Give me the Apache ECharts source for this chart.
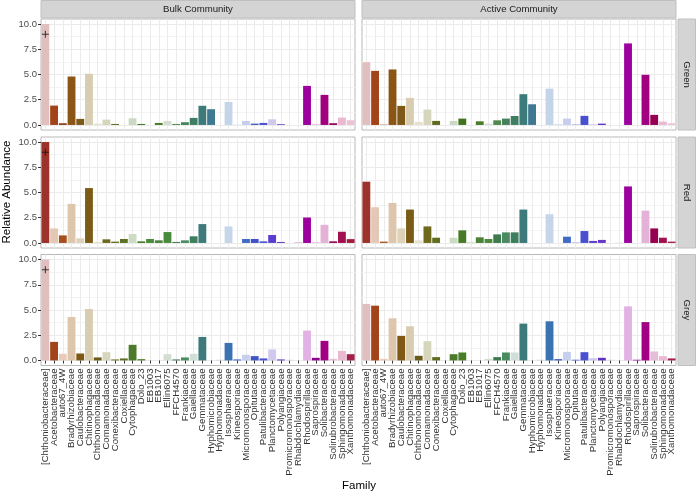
<!DOCTYPE html>
<html><head><meta charset="utf-8">
<script src="https://cdn.jsdelivr.net/npm/echarts@6/dist/echarts.min.js"></script>
<style>html,body{margin:0;padding:0;background:#fff}#c{width:696px;height:495px}</style>
</head><body><div id="c"></div>
<script>
const categories = ['[Chthoniobacteraceae]','Acetobacteraceae','auto67_4W','Bradyrhizobiaceae','Caulobacteraceae','Chitinophagaceae','Chthonomonadaceae','Comamonadaceae','Conexibacteraceae','Coxiellaceae','Cytophagaceae','Dolo_23','EB1003','EB1017','Ellin6075','FFCH4570','Frankiaceae','Gaiellaceae','Gemmataceae','Hyphomicrobiaceae','Hyphomonadaceae','Isosphaeraceae','Kineosporiaceae','Micromonosporaceae','Opitutaceae','Patulibacteraceae','Planctomycetaceae','Polyangiaceae','Promicromonosporaceae','Rhabdochlamydiaceae','Rhodospirillaceae','Saprospiraceae','Solibacteraceae','Solirubrobacteraceae','Sphingomonadaceae','Xanthomonadaceae'];
const columnTitles = ['Bulk Community','Active Community'];
const rowTitles = ['Green','Red','Grey'];
const yTicks = [0, 2.5, 5, 7.5, 10];

const bulkGreen   = [10, 1.92, 0.17, 4.8, 0.6, 5.07, 0.13, 0.53, 0.1, 0, 0.66, 0.1, 0, 0.2, 0.4, 0.1, 0.27, 0.7, 1.9, 1.56, 0, 2.28, 0.03, 0.4, 0.13, 0.2, 0.56, 0.07, 0, 0, 3.87, 0.1, 2.98, 0.17, 0.73, 0.47];
const activeGreen = [6.22, 5.36, 0.03, 5.5, 1.89, 2.68, 0.3, 1.52, 0.4, 0, 0.4, 0.63, 0, 0.36, 0.13, 0.46, 0.63, 0.89, 3.05, 2.05, 0, 3.6, 0.07, 0.63, 0.03, 0.9, 0.07, 0.13, 0, 0, 8.08, 0, 4.97, 1.0, 0.33, 0.17];
const bulkRed     = [10, 1.44, 0.75, 3.87, 0.46, 5.44, 0.1, 0.36, 0.13, 0.39, 0.89, 0.16, 0.39, 0.26, 1.08, 0.1, 0.26, 0.66, 1.87, 0, 0, 1.64, 0, 0.39, 0.39, 0.16, 0.79, 0.1, 0, 0.1, 2.52, 0.1, 1.8, 0.16, 1.11, 0.38];
const activeRed   = [6.07, 3.54, 0.13, 3.97, 1.44, 3.31, 0.26, 1.64, 0.52, 0, 0.52, 1.25, 0.1, 0.56, 0.39, 0.85, 1.05, 1.05, 3.31, 0, 0, 2.85, 0, 0.62, 0.1, 1.18, 0.2, 0.3, 0, 0.03, 5.6, 0, 3.2, 1.44, 0.52, 0.13];
const bulkGrey    = [10, 1.84, 0.66, 4.31, 0.69, 5.1, 0.3, 0.82, 0.1, 0.2, 1.55, 0.13, 0, 0, 0.62, 0.1, 0.3, 0.66, 2.33, 0, 0.07, 1.74, 0.1, 0.56, 0.43, 0.2, 1.09, 0.1, 0.07, 0, 2.96, 0.26, 1.94, 0.16, 0.95, 0.62];
const activeGrey  = [5.6, 5.43, 0.16, 4.18, 2.43, 3.39, 0.46, 1.91, 0.33, 0, 0.62, 0.79, 0, 0, 0.16, 0.33, 0.79, 0.79, 3.65, 0, 0.07, 3.88, 0.13, 0.85, 0.07, 0.82, 0.23, 0.26, 0.07, 0, 5.36, 0.07, 3.8, 0.89, 0.43, 0.2];

const plusCategory = '[Chthoniobacteraceae]';
const plusValue = 9;

// styles (fill colours per family, per row)
const colorsGreen = ['#e2bfbf','#a3431a','#8e3c12','#8b5515','#7e5817','#d8cdb0','#e6e1cc','#d6d6bc','#616a1d','#5f6d20','#cad9c2','#41731f','#4a7c2b','#4a7a28','#d3ddd0','#4f8a4c','#45825c','#3f7e62','#3d7a7a','#3f7891','#c7d5e8','#c5d5e9','#c9d4ee','#c6cdee','#3f55c4','#4a4fd0','#d0c8ee','#5b2fc0','#dccdee','#e8c2e4','#9c009e','#ecc4e0','#a1007e','#960052','#e9b9d2','#ebc3d3'];
const colorsRed   = ['#9c3229','#e5c7b6','#a5501c','#ddc6ac','#ded2b8','#7a5c17','#e8e2cc','#6e6a1d','#646c1f','#5c7222','#cbdcc3','#467a24','#4b8a3a','#4a8038','#4a8a3c','#3f7a4e','#4a8a60','#3e7e5e','#3e7a7c','#3f7891','#c7d5e8','#c6d6e8','#c9d4ee','#3f6ac6','#4050c8','#4a4fd0','#5a3dd0','#6a35c8','#dccdee','#e8c2e4','#9c009e','#ecc4e0','#e3b2d6','#960052','#a1104f','#a3183e'];
const colorsGrey  = ['#e2bfbf','#a3431a','#e8cbb9','#ddc6ac','#805816','#d8cdb0','#6b5a19','#d6d6bc','#616a1d','#5c7222','#4a7a2a','#4a7d28','#4a7c2b','#4a7a28','#d3ddd0','#3f7a4e','#4a8a60','#d0e0d8','#3e7a7c','#3f7891','#c7d5e8','#3a72b2','#3f55c4','#c6d0ee','#3f55c4','#4a4fd0','#d0c8ee','#5b2fc0','#dccdee','#e8c2e4','#e2b2e4','#8f008a','#a10084','#e6bdd6','#e9b9d2','#a3204a'];
const colorsActiveRed = colorsRed.map((c,i)=> i===12 ? '#d5e2cf' : (i===24 ? '#c6cdee' : c));

const FONT = '"Liberation Sans", Arial, Helvetica, sans-serif';
const colLeft = [41, 362], colW = [314, 314];
const rowTop = [19, 137, 254.5], rowH = 111, exp = rowH * 0.5 / 11;

const panels = [
  {r:0, c:0, vals:bulkGreen,   colors:colorsGreen, plus:true},
  {r:0, c:1, vals:activeGreen, colors:colorsGreen, plus:false},
  {r:1, c:0, vals:bulkRed,     colors:colorsRed,   plus:true},
  {r:1, c:1, vals:activeRed,   colors:colorsActiveRed, plus:false},
  {r:2, c:0, vals:bulkGrey,    colors:colorsGrey,  plus:true},
  {r:2, c:1, vals:activeGrey,  colors:colorsGrey,  plus:false}
];

const grids = [], xAxes = [], yAxes = [], series = [];
panels.forEach(p => {
  const L = colLeft[p.c], T = rowTop[p.r], Wd = colW[p.c];
  const bottom = p.r === 2, leftCol = p.c === 0;
  const gBg = grids.length;
  grids.push({left:L, top:T, width:Wd, height:rowH, show:true, backgroundColor:'#ffffff', borderColor:'#b8b8b8', borderWidth:1, z:0});
  xAxes.push({type:'value', gridIndex:gBg, min:0, max:categories.length, interval:1,
    axisLine:{show:false}, axisTick:{show:false}, axisLabel:{show:false}, splitLine:{show:false},
    minorTick:{show:false, splitNumber:2}, minorSplitLine:{show:true, lineStyle:{color:'#ebebeb', width:1}}});
  yAxes.push({type:'value', gridIndex:gBg, min:0, max:1, axisLine:{show:false}, axisTick:{show:false}, axisLabel:{show:false}, splitLine:{show:false}});
  const gM = grids.length;
  grids.push({left:L, top:T + exp, width:Wd, height:rowH - 2*exp});
  xAxes.push({type:'category', gridIndex:gM, data:categories, offset:exp,
    axisLine:{show:false},
    axisTick:{show:bottom, alignWithLabel:true, length:3, lineStyle:{color:'#333'}},
    axisLabel:{show:bottom, rotate:90, interval:0, fontSize:9.6, color:'#333', margin:3, fontFamily:FONT},
    splitLine:{show:false}});
  yAxes.push({type:'value', gridIndex:gM, min:yTicks[0], max:yTicks[yTicks.length-1], interval:2.5,
    axisLine:{show:false},
    axisTick:{show:leftCol, length:3, lineStyle:{color:'#333'}},
    axisLabel:{show:leftCol, formatter:v => v.toFixed(1), fontSize:9.5, color:'#4d4d4d', margin:4, fontFamily:FONT},
    splitLine:{show:true, lineStyle:{color:'#ebebeb', width:1}},
    minorTick:{show:false, splitNumber:2},
    minorSplitLine:{show:true, lineStyle:{color:'#f3f3f3', width:1}}});
  const xi = xAxes.length - 1, yi = yAxes.length - 1;
  series.push({type:'bar', xAxisIndex:xi, yAxisIndex:yi, barWidth:'90%', silent:true,
    data:p.vals.map((v,i) => ({value:v, itemStyle:{color:p.colors[i]}}))});
  if (p.plus) {
    series.push({type:'scatter', xAxisIndex:xi, yAxisIndex:yi, silent:true, z:5,
      symbol:'path://M3,0H4V3H7V4H4V7H3V4H0V3H3Z', symbolSize:7, itemStyle:{color:'#111'},
      data:[[plusCategory, plusValue]]});
  }
});

const graphics = [];
columnTitles.forEach((t, c) => {
  graphics.push({type:'rect', shape:{x:colLeft[c], y:0.5, width:colW[c], height:17.5}, style:{fill:'#d4d4d4', stroke:'#c0c0c0', lineWidth:1}, silent:true});
  graphics.push({type:'text', x:colLeft[c] + colW[c]/2, y:9.5, style:{text:t, fill:'#1a1a1a', font:'9.6px ' + FONT, textAlign:'center', textVerticalAlign:'middle'}, silent:true});
});
rowTitles.forEach((t, r) => {
  graphics.push({type:'rect', shape:{x:678, y:rowTop[r], width:17.5, height:rowH}, style:{fill:'#d4d4d4', stroke:'#c0c0c0', lineWidth:1}, silent:true});
  graphics.push({type:'text', x:687, y:rowTop[r] + rowH/2, rotation:-Math.PI/2, style:{text:t, fill:'#1a1a1a', font:'9.6px ' + FONT, textAlign:'center', textVerticalAlign:'middle'}, silent:true});
});
graphics.push({type:'text', x:7, y:192, rotation:Math.PI/2, style:{text:'Relative Abundance', fill:'#000', font:'11.5px ' + FONT, textAlign:'center', textVerticalAlign:'middle'}, silent:true});
graphics.push({type:'text', x:359, y:486, style:{text:'Family', fill:'#000', font:'11.5px ' + FONT, textAlign:'center', textVerticalAlign:'middle'}, silent:true});

const chart = echarts.init(document.getElementById('c'), null, {renderer:'canvas'});
chart.setOption({
  animation:false,
  backgroundColor:'#ffffff',
  textStyle:{fontFamily:FONT},
  grid:grids, xAxis:xAxes, yAxis:yAxes, series:series, graphic:graphics
});
</script></body></html>
